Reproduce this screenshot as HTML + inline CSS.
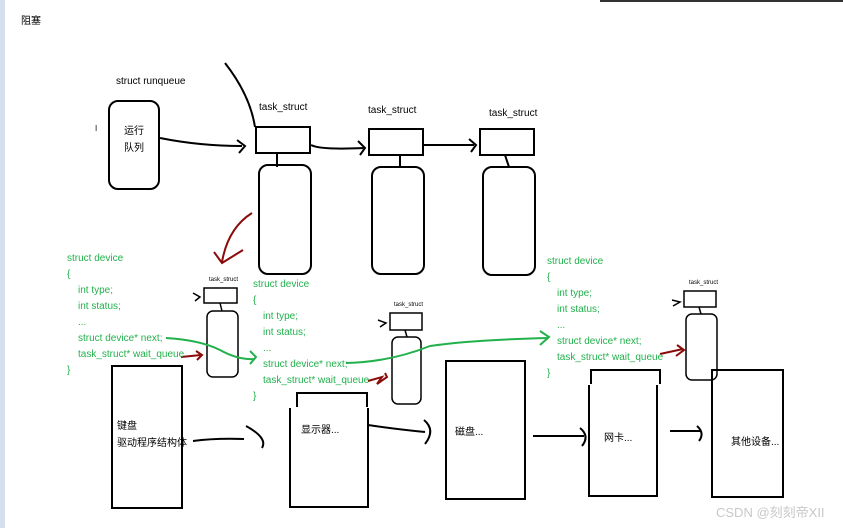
<!DOCTYPE html>
<html><head><meta charset="utf-8"><style>
html,body{margin:0;padding:0;background:#fff;}
svg{display:block;}
text{font-family:"Liberation Sans","Noto Sans CJK SC",sans-serif;font-size:10px;fill:#000;}
.g{fill:#22b14c;}
</style></head><body>
<svg width="843" height="528" viewBox="0 0 843 528" xmlns="http://www.w3.org/2000/svg">
<rect x="0" y="0" width="5" height="528" fill="#d6dfee"/>
<line x1="600" y1="1" x2="843" y2="1" stroke="#333" stroke-width="2"/>
<text x="21" y="24">阻塞</text>
<text x="116" y="84">struct runqueue</text>
<text x="95" y="131" style="font-size:8px">I</text>
<g fill="none" stroke="#000" stroke-width="2">
<rect x="109" y="101" width="50" height="88" rx="9"/>
<path d="M225 63 Q250 95 255 127"/>
<path d="M160 138 Q200 146 242 146"/><path d="M237 140 L245 146 L239 153"/>
<rect x="256" y="127" width="54" height="26"/>
<rect x="369" y="129" width="54" height="26"/>
<rect x="480" y="129" width="54" height="26"/>
<rect x="259" y="165" width="52" height="109" rx="9"/>
<rect x="372" y="167" width="52" height="107" rx="9"/>
<rect x="483" y="167" width="52" height="108" rx="9"/>
<line x1="277" y1="153" x2="277" y2="167"/><line x1="400" y1="155" x2="400" y2="167"/><line x1="505" y1="155" x2="509" y2="167"/>
<path d="M311 145 Q320 150 364 148"/><path d="M358 141 L365 148 L360 155"/>
<path d="M423 145 L474 145"/><path d="M469 139 L476 145 L471 152"/>
<rect x="204" y="288" width="33" height="15" stroke-width="1.5"/>
<rect x="207" y="311" width="31" height="66" rx="6" stroke-width="1.5"/>
<line x1="220" y1="303" x2="222" y2="311" stroke-width="1.5"/>
<path d="M193 293 L200 297 L195 301" stroke-width="1.5"/>
<rect x="390" y="313" width="32" height="17" stroke-width="1.5"/>
<rect x="392" y="337" width="29" height="67" rx="6" stroke-width="1.5"/>
<line x1="405" y1="330" x2="407" y2="337" stroke-width="1.5"/>
<path d="M378 320 L386 323 L380 327" stroke-width="1.5"/>
<rect x="684" y="291" width="32" height="16" stroke-width="1.5"/>
<rect x="686" y="314" width="31" height="66" rx="6" stroke-width="1.5"/>
<line x1="699" y1="307" x2="701" y2="314" stroke-width="1.5"/>
<path d="M672 300 L680 302 L673 306" stroke-width="1.5"/>
<rect x="112" y="366" width="70" height="142"/>
<path d="M193 441 Q215 438 244 439"/><path d="M246 426 Q268 438 262 448"/>
<path d="M297 407 L297 393 L367 393 L367 407"/>
<path d="M290 408 L290 507 L368 507 L368 408"/>
<path d="M368 425 Q395 429 425 432"/><path d="M424 420 Q436 430 425 444"/>
<rect x="446" y="361" width="79" height="138"/>
<path d="M533 436 L584 436"/><path d="M580 428 Q590 436 582 446"/>
<path d="M591 384 L591 370 L660 370 L660 384"/>
<path d="M589 385 L589 496 L657 496 L657 385"/>
<path d="M670 431 L701 431"/><path d="M697 426 Q705 433 699 441"/>
<rect x="712" y="370" width="71" height="127"/>
</g>
<text x="124" y="134">运行</text><text x="124" y="151">队列</text>
<text x="259" y="110">task_struct</text>
<text x="368" y="113">task_struct</text>
<text x="489" y="116">task_struct</text>
<text x="209" y="281" style="font-size:6px">task_struct</text>
<text x="394" y="306" style="font-size:6px">task_struct</text>
<text x="689" y="284" style="font-size:6px">task_struct</text>
<g stroke="#8b0a0a" stroke-width="2" fill="none">
<path d="M252 213 Q228 228 222 262"/><path d="M214 252 L222 263 L243 250"/>
<path d="M181 357 L201 355"/><path d="M196 351 L202 355 L197 360"/>
<path d="M368 381 L382 377 L377 384 L387 377 L385 373"/>
<path d="M660 354 L683 349"/><path d="M677 345 L684 350 L676 356"/>
</g>
<g stroke="#22b14c" stroke-width="2" fill="none">
<path d="M166 338 Q200 340 220 350 Q238 360 254 359"/><path d="M250 351 L256 357 L250 364"/>
<path d="M346 363 Q390 362 430 346 Q470 340 548 338"/><path d="M540 331 L549 337 L540 345"/>
</g>
<g>
<text class="g" x="67" y="261">struct device</text>
<text class="g" x="67" y="277">{</text>
<text class="g" x="78" y="293">int type;</text>
<text class="g" x="78" y="309">int status;</text>
<text class="g" x="78" y="325">...</text>
<text class="g" x="78" y="341">struct device* next;</text>
<text class="g" x="78" y="357">task_struct* wait_queue</text>
<text class="g" x="67" y="373">}</text>
<text class="g" x="253" y="287">struct device</text>
<text class="g" x="253" y="303">{</text>
<text class="g" x="263" y="319">int type;</text>
<text class="g" x="263" y="335">int status;</text>
<text class="g" x="263" y="351">...</text>
<text class="g" x="263" y="367">struct device* next;</text>
<text class="g" x="263" y="383">task_struct* wait_queue</text>
<text class="g" x="253" y="399">}</text>
<text class="g" x="547" y="264">struct device</text>
<text class="g" x="547" y="280">{</text>
<text class="g" x="557" y="296">int type;</text>
<text class="g" x="557" y="312">int status;</text>
<text class="g" x="557" y="328">...</text>
<text class="g" x="557" y="344">struct device* next;</text>
<text class="g" x="557" y="360">task_struct* wait_queue</text>
<text class="g" x="547" y="376">}</text>
</g>
<text x="117" y="429">键盘</text>
<text x="117" y="446">驱动程序结构体</text>
<text x="301" y="433">显示器...</text>
<text x="455" y="435">磁盘...</text>
<text x="604" y="441">网卡...</text>
<text x="731" y="445">其他设备...</text>
<text x="716" y="517" style="font-size:13px;fill:#c8c8c8">CSDN @刻刻帝XII</text>
</svg>
</body></html>
